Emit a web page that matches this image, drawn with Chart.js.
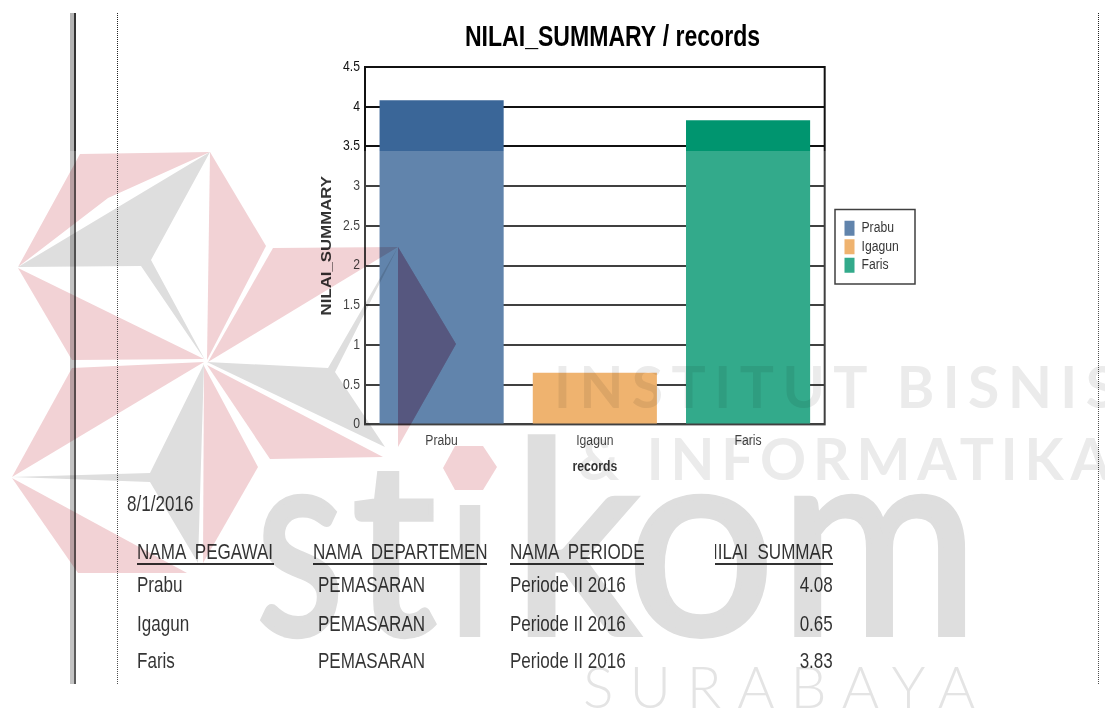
<!DOCTYPE html>
<html><head><meta charset="utf-8">
<script src="https://cdn.jsdelivr.net/npm/chart.js@4"></script>
<style>
html,body{margin:0;padding:0;background:#fff;overflow:hidden}
#page{position:relative;width:1105px;height:708px;background:#fff;overflow:hidden;isolation:isolate;filter:blur(.45px);font-family:"Liberation Sans",sans-serif;color:#000}
#page canvas{position:absolute;left:0;top:0}
.rule{position:absolute;top:13px;height:671px}
#bar1{left:70px;width:4px;background:#b4b4b4}
#bar2{left:74px;width:2px;background:#333}
#dot1{left:117px;border-left:1px dotted #222}
#dot2{left:1098px;border-left:1px dotted #222}
.t{position:absolute;white-space:pre;font-size:22px;line-height:24px;height:24px;transform:scaleX(.775);transform-origin:left top;color:#000}
.t.r{transform-origin:right top}
.h{position:absolute;height:22px;overflow:hidden;border-bottom:2px solid #000;font-size:22px;line-height:22px;white-space:pre;color:#000}
.h span{position:absolute;top:0;left:0;transform:scaleX(.775);transform-origin:left top}
.h span.r{left:auto;transform-origin:right top}
#veil{position:absolute;left:0;right:0;top:151px;bottom:0;background:rgba(255,255,255,.2)}
#mark{position:absolute;left:0;top:0;mix-blend-mode:multiply}
</style></head><body>
<div id="page">
  <div class="rule" id="bar1"></div><div class="rule" id="bar2"></div>
  <div class="rule" id="dot1"></div><div class="rule" id="dot2"></div>
  <canvas id="c" width="1105" height="708"></canvas>
  <div id="table"></div>
  <div id="veil"></div>
  <svg id="mark" width="1105" height="708" viewBox="0 0 1105 708" xmlns="http://www.w3.org/2000/svg">
    <defs>
      <clipPath id="noDot"><rect x="440" y="505" width="60" height="140"/></clipPath>
      <clipPath id="lowT"><rect x="340" y="471" width="110" height="175"/></clipPath>
    </defs>
    <g fill="#f2d2d5">
      <polygon points="18,267 80,154 210,152 108,198"/>
      <polygon points="210,152 266,246 207,360"/>
      <polygon points="273,248 398,247 208,362"/>
      <polygon points="398,247 456,344 398,447"/>
      <polygon points="207,365 383,457 270,459"/>
      <polygon points="204,366 258,467 203,563"/>
      <polygon points="204,359 18,268 72,360"/>
      <polygon points="204,362 72,368 12,477"/>
      <polygon points="12,478 187,573 78,573"/>
      <polygon points="443,468 455,446 483,446 497,467 483,490 455,490"/>
    </g>
    <polygon points="398,247 456,344 410.4,425 398,425" fill="#e1a8bd"/>
    <g fill="#dedede">
      <polygon points="18,267 210,152 151,260 205,360 141,266"/>
      <polygon points="207,362 328,368 398,247 335,372 385,447"/>
      <polygon points="12,477 150,473 204,364 198,563 150,482"/>
    </g>
    <g fill="#dedede" stroke="#dedede" stroke-width="6" font-family="Lato,'Liberation Sans',sans-serif" font-weight="400" font-size="267">
      <text x="256" y="634" textLength="88" lengthAdjust="spacingAndGlyphs">s</text>
      <text x="352" y="634" textLength="84" lengthAdjust="spacingAndGlyphs" clip-path="url(#lowT)">t</text>
      <text x="448" y="634" textLength="44" lengthAdjust="spacingAndGlyphs" clip-path="url(#noDot)">i</text>
      <text x="513" y="634" textLength="126" lengthAdjust="spacingAndGlyphs">k</text>
      <text x="627" y="634" textLength="148" lengthAdjust="spacingAndGlyphs">o</text>
      <text x="780" y="634" textLength="198" lengthAdjust="spacingAndGlyphs">m</text>
    </g>
    <g fill="#ebebeb" font-family="Lato,'Liberation Sans',sans-serif" font-weight="700" font-size="57">
      <text x="554" y="408" textLength="563" lengthAdjust="spacing">INSTITUT BISNIS</text>
      <text x="578" y="480" textLength="532" lengthAdjust="spacing">&amp; INFORMATIKA</text>
    </g>
    <text x="583" y="708" textLength="392" lengthAdjust="spacing" fill="#e4e4e4" font-family="Lato,'Liberation Sans',sans-serif" font-weight="300" font-size="57">SURABAYA</text>
  </svg>
</div>
<script>
const categories = ["Prabu", "Igagun", "Faris"];
const nilaiSummary = [4.08, 0.65, 3.83];
const barColors = ["#3a6698", "#eca04b", "#00956f"];
const yTicks = [0, 0.5, 1, 1.5, 2, 2.5, 3, 3.5, 4, 4.5];
const departemen = ["PEMASARAN", "PEMASARAN", "PEMASARAN"];
const periode = ["Periode II 2016", "Periode II 2016", "Periode II 2016"];
const tanggal = "8/1/2016";

const BODY = '"Liberation Sans",sans-serif';
const WIDE = 'Arial,"Liberation Sans",sans-serif';
const table = document.getElementById('table');
function t(txt, left, top, right){
  const d = document.createElement('div'); d.className = 't'; d.textContent = txt;
  d.style.top = top + 'px';
  if (right !== undefined) { d.classList.add('r'); d.style.right = (1105 - right) + 'px'; } else d.style.left = left + 'px';
  table.appendChild(d);
}
function h(txt, left, width, offset, fromRight){
  const d = document.createElement('div'); d.className = 'h';
  d.style.left = left + 'px'; d.style.width = width + 'px'; d.style.top = '541px';
  const s = document.createElement('span'); s.textContent = txt;
  if (fromRight) { s.classList.add('r'); s.style.right = offset + 'px'; }
  d.appendChild(s); table.appendChild(d);
}
t(tanggal, 127, 492);
h("NAMA  PEGAWAI", 137, 137, 0);
h("NAMA  DEPARTEMEN", 313, 174, 0);
h("NAMA  PERIODE", 510, 134, 0);
h("NILAI  SUMMARY", 715, 118, -11.5, true);
const rowTop = [573, 612, 649];
categories.forEach((c, i) => {
  t(c, 137, rowTop[i]);
  t(departemen[i], 318, rowTop[i]);
  t(periode[i], 510, rowTop[i]);
  t(nilaiSummary[i].toFixed(2), 0, rowTop[i], 833);
});

// The reference's type is condensed; squeeze the canvas text the same way.
const canvas = document.getElementById('c');
const rawCtx = canvas.getContext('2d');
const rawFill = rawCtx.fillText.bind(rawCtx);
rawCtx.fillText = function(txt, x, y, mw){
  const f = rawCtx.font;
  const k = f.includes('Arial') ? 1.12 : (/\b29px/.test(f) ? 0.795 : 0.87);
  rawCtx.save(); rawCtx.translate(x, y); rawCtx.scale(k, 1);
  rawFill(txt, 0, 0);
  rawCtx.restore();
};

const frame = {
  id: 'frame',
  afterLayout(chart){
    const tb = chart.titleBlock;
    tb.left = 300; tb.right = 925;
    const l = chart.legend;
    const dx = 841 - l.left;
    l.left += dx; l.right += dx; l.top += 1; l.bottom += 1;
    l.adjustHitBoxes();
  },
  beforeDatasetsDraw(chart){
    const a = chart.chartArea, x = chart.ctx;
    x.save(); x.strokeStyle = '#111'; x.lineWidth = 2;
    x.strokeRect(a.left, a.top, a.right - a.left, a.bottom - a.top);
    x.restore();
  },
  afterDraw(chart){
    const x = chart.ctx; x.save(); x.strokeStyle = '#111'; x.lineWidth = 1.5;
    x.strokeRect(835, 209.5, 80, 74.5); x.restore();
  }
};

new Chart(canvas, {
  type: 'bar',
  data: { labels: categories, datasets: [{ data: nilaiSummary, backgroundColor: barColors, barPercentage: 1, categoryPercentage: 0.81, borderWidth: 0 }] },
  plugins: [frame],
  options: {
    responsive: false, animation: false, devicePixelRatio: 1,
    layout: { padding: { left: 310, right: 207, top: 16, bottom: 0 } },
    plugins: {
      tooltip: { enabled: false },
      title: { display: true, text: "NILAI_SUMMARY / records", color: '#000',
        font: { family: BODY, size: 29, weight: 'bold', lineHeight: 1.0 }, padding: { top: 7, bottom: 15 } },
      legend: { display: true, position: 'right', fullSize: false,
        labels: { boxWidth: 10, boxHeight: 15, padding: 3.5, color: '#111', font: { family: BODY, size: 14 },
          generateLabels: () => categories.map((c, i) => ({ text: c, fillStyle: barColors[i], strokeStyle: barColors[i], lineWidth: 0, index: i, hidden: false })) } }
    },
    scales: {
      x: { grid: { display: false, drawTicks: false }, border: { display: false },
        ticks: { color: '#111', font: { family: BODY, size: 14 }, padding: 8 },
        title: { display: true, text: "records", color: '#000', font: { family: BODY, size: 14, weight: 'bold' }, padding: { top: 2, bottom: 232 } } },
      y: { min: 0, max: 4.5, afterBuildTicks(s){ s.ticks = yTicks.map(v => ({ value: v })); },
        afterFit(s){ s.width = 55; },
        grid: { color: '#111', lineWidth: 2, drawTicks: false }, border: { display: false },
        ticks: { color: '#111', font: { family: BODY, size: 14 }, padding: 5, callback: v => String(v) },
        title: { display: true, text: "NILAI_SUMMARY", color: '#000', font: { family: WIDE, size: 15, weight: 'bold' }, padding: { top: 8, bottom: 0 } } }
    }
  }
});
</script>
</body></html>
